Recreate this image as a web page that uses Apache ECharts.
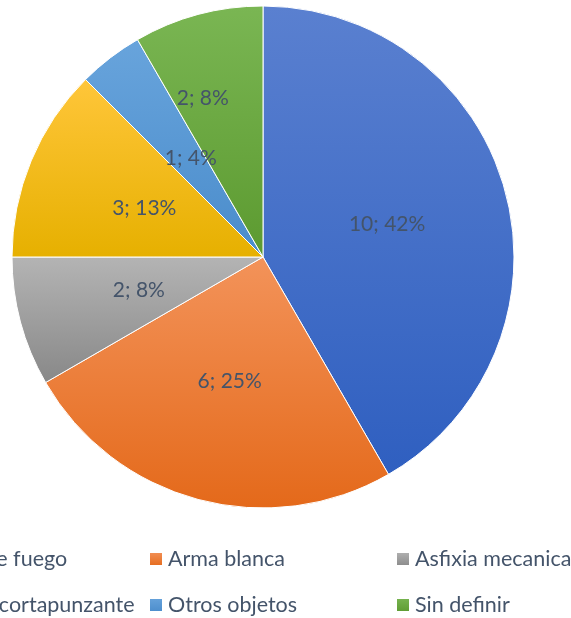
<!DOCTYPE html>
<html>
<head>
<meta charset="utf-8">
<script src="https://cdn.jsdelivr.net/npm/echarts@6/dist/echarts.min.js"></script>
<style>
html, body { margin: 0; padding: 0; background: #fff; }
#chart { width: 571px; height: 618px; }
</style>
</head>
<body>
<div id="chart"></div>
<script>
// data
const categories = ['Arma de fuego', 'Arma blanca', 'Asfixia mecanica', 'Objeto cortapunzante', 'Otros objetos', 'Sin definir']
const values = [10, 6, 2, 3, 1, 2]
// top / bottom colours of each slice gradient
const topColors = ['#5a80d0', '#f3935a', '#b4b4b4', '#ffc63a', '#68a4dc', '#7ab653']
const bottomColors = ['#2f5fc0', '#e4691a', '#888888', '#e6b000', '#4a8ccb', '#5c9a30']

const total = values.reduce((a, b) => a + b, 0)

function grad(i) {
  return new echarts.graphic.LinearGradient(0, 0, 0, 1, [
    { offset: 0, color: topColors[i] },
    { offset: 1, color: bottomColors[i] }
  ])
}

const legendText = {
  color: '#44546a',
  fontFamily: 'Lato',
  fontSize: 21.5,
  padding: 0
}

function makeLegend(left, names) {
  return {
    orient: 'vertical',
    left: left,
    top: 548,
    itemWidth: 14,
    itemHeight: 14,
    itemGap: 24,
    padding: 0,
    icon: 'rect',
    selectedMode: false,
    textStyle: legendText,
    data: names
  }
}

// small label nudges, Excel moved these two a bit
const labelOffsets = { 4: [6, 3], 5: [-27, -35] }

const myChart = echarts.init(document.getElementById('chart'))
myChart.setOption({
  animation: false,
  legend: [
    makeLegend(-92, [categories[0], categories[3]]),
    makeLegend(148, [categories[1], categories[4]]),
    makeLegend(395, [categories[2], categories[5]])
  ],
  series: [
    {
      type: 'pie',
      center: [263, 257],
      radius: 251,
      startAngle: 90,
      clockwise: true,
      avoidLabelOverlap: false,
      itemStyle: {
        borderColor: '#ffffff',
        borderWidth: 1
      },
      label: {
        position: 'inside',
        color: '#44546a',
        fontFamily: 'Lato',
        fontSize: 21,
        formatter: p => p.value + '; ' + Math.round(p.value / total * 100) + '%'
      },
      labelLine: { show: false },
      emphasis: { disabled: true },
      data: categories.map((name, i) => ({
        name: name,
        value: values[i],
        itemStyle: { color: grad(i) },
        label: labelOffsets[i] ? { offset: labelOffsets[i] } : undefined
      }))
    }
  ]
})
</script>
</body>
</html>
